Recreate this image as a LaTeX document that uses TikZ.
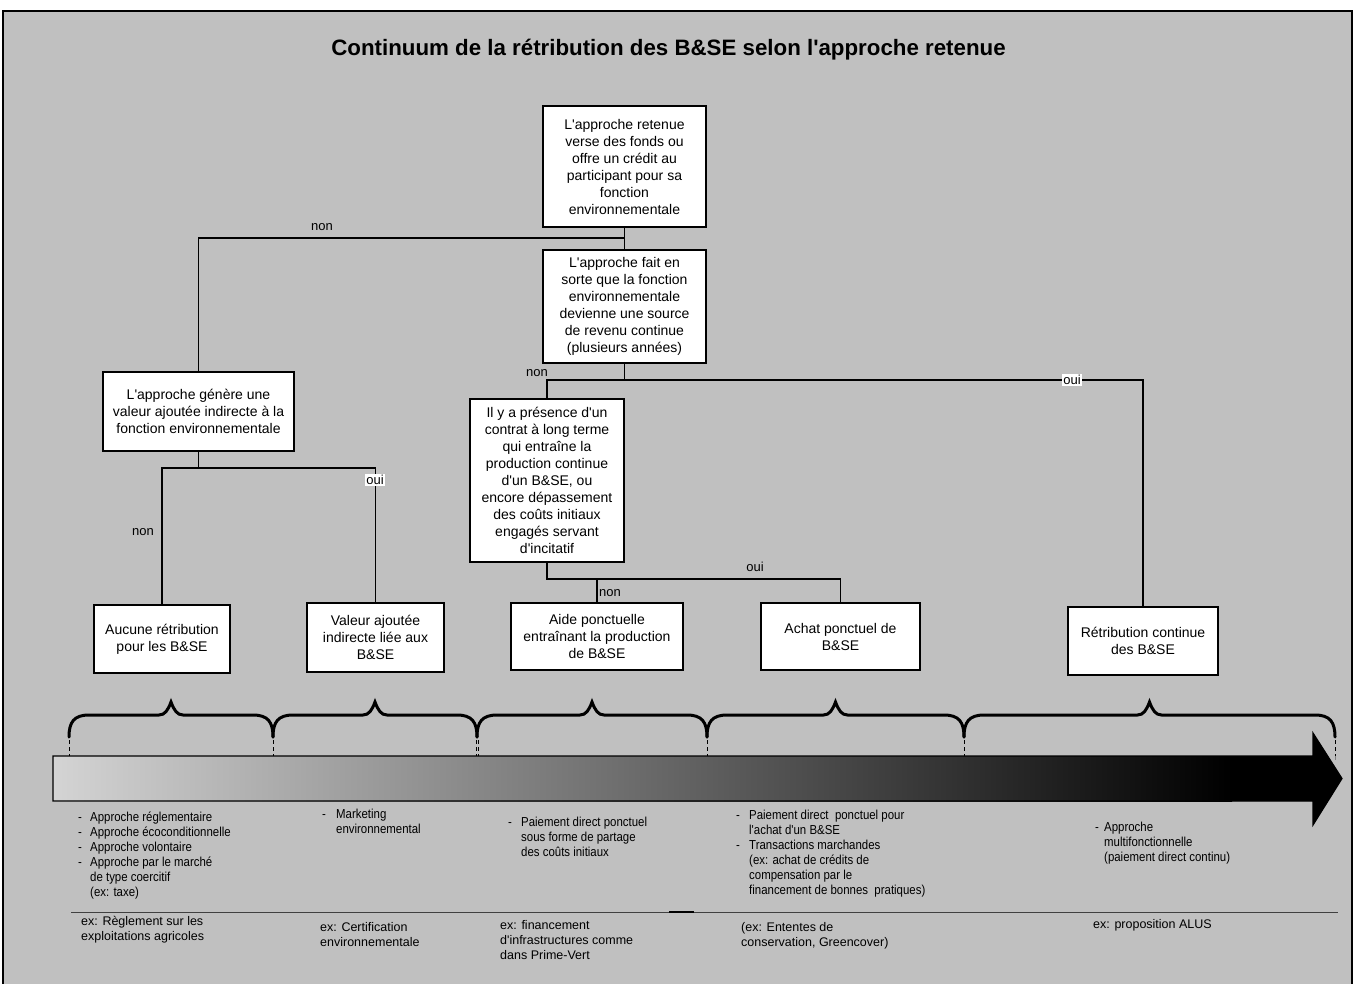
\documentclass[tikz,border=0pt]{standalone}
\usepackage{fontspec}
\setmainfont{Liberation Sans}[Ligatures=TeXOff]
\newfontfamily\narrowsans{Liberation Sans}[Ligatures=TeXOff,FakeStretch=0.88]
\definecolor{bggray}{HTML}{C0C0C0}
\definecolor{barleft}{HTML}{D4D4D4}
\definecolor{barmid}{HTML}{7A7A7A}
\newcommand\bulx[1]{\makebox[#1][l]{-}}
\begin{document}
\begin{tikzpicture}[x=1pt,y=-1pt,
  box/.style={draw=black, line width=1.3pt, fill=white, align=center, inner sep=0pt, font=\fontsize{14}{17}\selectfont},
  conn/.style={draw=black, line width=1.2pt},
  lbl/.style={font=\fontsize{13}{15}\selectfont, inner sep=1pt},
  lblw/.style={lbl, fill=white},
  brc/.style={line width=3pt, line cap=round},
  tickline/.style={line width=0.9pt, dash pattern=on 4pt off 3pt},
  upper/.style={font=\narrowsans\fontsize{13}{15}\selectfont, align=left, anchor=north west, inner sep=0pt},
  lower/.style={font=\fontsize{12.5}{15}\selectfont, align=left, anchor=north west, inner sep=0pt}]
\useasboundingbox (0,0) rectangle (1355,983);
\fill[white] (0,0) rectangle (1355,983);
\draw[fill=bggray, line width=2.5pt] (3,11) rectangle (1352,995);

% title
\node[font=\bfseries\fontsize{22.3}{26}\selectfont] (title) at (668.5,50) {Continuum de la rétribution des B\&SE selon l'approche retenue};

% boxes
\node[box, minimum width=163pt, minimum height=121pt] (b1) at (624.5,166.5) {L'approche retenue\\verse des fonds ou\\offre un crédit au\\participant pour sa\\fonction\\environnementale};
\node[box, minimum width=163pt, minimum height=113pt] (b2) at (624.5,306.5) {L'approche fait en\\sorte que la fonction\\environnementale\\devienne une source\\de revenu continue\\(plusieurs années)};
\node[box, minimum width=191pt, minimum height=79pt] (b3) at (198.5,411.5) {L'approche génère une\\valeur ajoutée indirecte à la\\fonction environnementale};
\node[box, minimum width=136pt, minimum height=68pt] (b4) at (162,639) {Aucune rétribution\\pour les B\&SE};
\node[box, minimum width=137pt, minimum height=69pt] (b5) at (375.5,637.5) {Valeur ajoutée\\indirecte liée aux\\B\&SE};
\node[box, minimum width=154pt, minimum height=163pt] (b6) at (547,480.5) {Il y a présence d'un\\contrat à long terme\\qui entraîne la\\production continue\\d'un B\&SE, ou\\encore dépassement\\des coûts initiaux\\engagés servant\\d'incitatif};
\node[box, minimum width=172pt, minimum height=67pt] (b7) at (597,636.5) {Aide ponctuelle\\entraînant la production\\de B\&SE};
\node[box, minimum width=159pt, minimum height=67pt] (b8) at (840.5,636.5) {Achat ponctuel de\\B\&SE};
\node[box, minimum width=150pt, minimum height=68pt] (b9) at (1143,641) {Rétribution continue\\des B\&SE};

% connectors
\coordinate (j1) at (624.5,238);
\coordinate (j2) at (624.5,380);
\coordinate (j3) at (198.5,468);
\coordinate (j4) at (597,579);
\draw[conn] (b1.south) -- (b2.north);
\draw[conn] (j1) -| (b3.north);
\draw[conn] (b2.south) -- (j2);
\draw[conn] (j2) -| (b6.north);
\draw[conn] (j2) -| (b9.north);
\draw[conn] (b3.south) -- (j3);
\draw[conn] (j3) -| (b4.north);
\draw[conn] (j3) -| (b5.north);
\draw[conn] (b6.south) |- (j4) -- (b7.north);
\draw[conn] (j4) -| (b8.north);

% labels
\node[lbl] (lnon1) at (322,227) {non};
\node[lbl] (lnon2) at (537,373) {non};
\node[lblw] (loui1) at (1072,380) {oui};
\node[lbl] (lnon3) at (143,532) {non};
\node[lblw] (loui2) at (375,480) {oui};
\node[lbl] (loui3) at (755,567) {oui};
\node[lbl] (lnon4) at (610,593) {non};

% braces
\foreach \a/\m/\b in {69/171/273, 273/375/477, 477/592/707, 707/835.5/964, 964/1149.5/1335}{
  \draw[brc] (\a,737) .. controls (\a,722) and (\a+5,715) .. (\a+20,715) -- (\m-12,715)
    .. controls (\m-6,715) and (\m-3,710) .. (\m,702)
    .. controls (\m+3,710) and (\m+6,715) .. (\m+12,715) -- (\b-20,715)
    .. controls (\b-5,715) and (\b,722) .. (\b,737);
}
\foreach \x in {69,273,476,478.5,707,964,1335}{
  \draw[tickline] (\x,740) -- (\x,756);
}

% continuum arrow
\shade[left color=barleft, middle color=barmid, right color=black] (53,756) rectangle (1232,801);
\fill[black] (1230,756) -- (1313,756) -- (1313,733) -- (1342,778.5) -- (1313,825) -- (1313,801) -- (1230,801) -- cycle;
\draw[line width=1.2pt, line join=miter] (53,756) -- (1313,756) -- (1313,733) -- (1342,778.5) -- (1313,825) -- (1313,801) -- (53,801) -- cycle;
\draw[tickline, gray] (1335,756) -- (1335,762);

% upper texts
\node[upper] (u1) at (78,812) {\bulx{12pt}Approche réglementaire\\\bulx{12pt}Approche écoconditionnelle\\\bulx{12pt}Approche volontaire\\\bulx{12pt}Approche par le marché\\\hspace*{12pt}de type coercitif\\\hspace*{12pt}(ex: taxe)};
\node[upper] (u2) at (322,809) {\bulx{14pt}Marketing\\\hspace*{14pt}environnemental};
\node[upper] (u3) at (508,817) {\bulx{13pt}Paiement direct ponctuel\\\hspace*{13pt}sous forme de partage\\\hspace*{13pt}des coûts initiaux};
\node[upper] (u4) at (736,810) {\bulx{13pt}Paiement direct\ \ ponctuel pour\\\hspace*{13pt}l'achat d'un B\&SE\\\bulx{13pt}Transactions marchandes\\\hspace*{13pt}(ex: achat de crédits de\\\hspace*{13pt}compensation par le\\\hspace*{13pt}financement de bonnes\ \ pratiques)};
\node[upper] (u5) at (1095,822) {\bulx{9pt}Approche\\\hspace*{9pt}multifonctionnelle\\\hspace*{9pt}(paiement direct continu)};

% separator
\draw[line width=1pt, black!75] (71,912) -- (1338,912);
\draw[line width=2.5pt] (669,912) -- (694,912);

% lower texts
\node[lower] (e1) at (81,916) {ex: Règlement sur les\\exploitations agricoles};
\node[lower] (e2) at (320,922) {ex: Certification\\environnementale};
\node[lower] (e3) at (500,920) {ex: financement\\d'infrastructures comme\\dans Prime-Vert};
\node[lower] (e4) at (741,922) {(ex: Ententes de\\conservation, Greencover)};
\node[lower] (e5) at (1093,919) {ex: proposition ALUS};
\end{tikzpicture}
\end{document}
